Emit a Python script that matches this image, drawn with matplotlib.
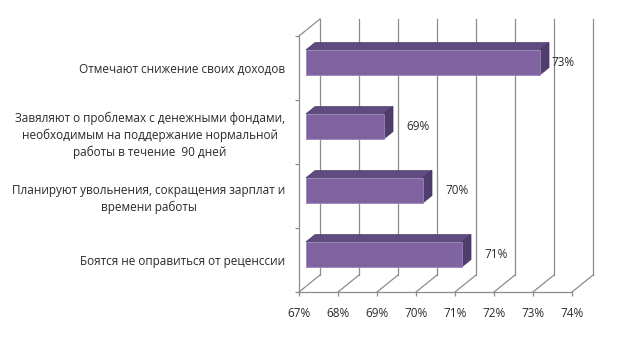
import numpy as np
import matplotlib
matplotlib.use('Agg')
import matplotlib.pyplot as plt
from matplotlib.ticker import FixedLocator, NullFormatter

plt.rcParams['font.family'] = ['Open Sans', 'DejaVu Sans']

# data (top to bottom, as in the chart)
categories = ['Отмечают снижение своих доходов',
              'Завяляют о проблемах с денежными фондами,\nнеобходимым на поддержание нормальной\nработы в течение  90 дней',
              'Планируют увольнения, сокращения зарплат и\nвремени работы',
              'Боятся не оправиться от реценссии']
values = [73, 69, 70, 71]
value_labels = ['73%', '69%', '70%', '71%']
xticks = [67, 68, 69, 70, 71, 72, 73, 74]
xtick_labels = ['67%', '68%', '69%', '70%', '71%', '72%', '73%', '74%']

# pseudo 3D settings (in data units)
DX, DY = 0.54, 0.266       # full depth offset
f_front, f_back = 0.33, 0.76
half_h = 0.195
line_col = '#8c8c8c'
text_col = '#2a2a2a'
face = '#8064a2'
top_col = '#5f4b80'
side_col = '#4f3d6b'
label_shift = [0.77, 1.05, 1.05, 1.05]

fig = plt.figure(figsize=(6.24, 3.40), dpi=100)
ax = fig.add_axes([299/624, 48/340, 273/624, 256/340])
ax.set_xlim(67, 74)
ax.set_ylim(0, 4)
n = len(categories)
centers = [n - 0.5 - i for i in range(n)]

# back wall and floor
for x in xticks:
    ax.plot([x + DX, x + DX], [DY, 4 + DY], color=line_col, lw=0.9, clip_on=False, zorder=1)
    ax.plot([x, x + DX], [0, DY], color=line_col, lw=0.9, clip_on=False, zorder=1)
ax.plot([67, 67 + DX], [4, 4 + DY], color=line_col, lw=0.9, clip_on=False, zorder=1)

# bars
dd = f_back - f_front
for v, c, lab, s in zip(values, centers, value_labels, label_shift):
    x0 = 67 + f_front * DX
    x1 = v + f_front * DX
    y0 = c - half_h + f_front * DY
    y1 = c + half_h + f_front * DY
    ax.fill([x0, x1, x1 + dd * DX, x0 + dd * DX], [y1, y1, y1 + dd * DY, y1 + dd * DY],
            color=top_col, lw=0.5, ec='#4a3a66', clip_on=False, zorder=3)
    ax.fill([x1, x1, x1 + dd * DX, x1 + dd * DX], [y0, y1, y1 + dd * DY, y0 + dd * DY],
            color=side_col, lw=0.5, ec='#403258', clip_on=False, zorder=3)
    ax.fill([x0, x1, x1, x0], [y0, y0, y1, y1], color=face, lw=0.6, ec='#9a85bb',
            clip_on=False, zorder=4)
    ax.text(v + s, (y0 + y1) / 2, lab, ha='center', va='center', fontsize=8.5,
            color=text_col, zorder=5)

# axes
for sp in ['top', 'right']:
    ax.spines[sp].set_visible(False)
for sp in ['left', 'bottom']:
    ax.spines[sp].set_color(line_col)
    ax.spines[sp].set_linewidth(0.9)
ax.set_xticks(xticks)
ax.set_xticklabels(xtick_labels)
ax.yaxis.set_major_locator(FixedLocator(range(n + 1)))
ax.yaxis.set_major_formatter(NullFormatter())
ax.yaxis.set_minor_locator(FixedLocator(centers))
ax.set_yticklabels(categories, minor=True, multialignment='center', linespacing=1.35)
ax.tick_params(axis='both', which='major', direction='out', length=3, width=0.9,
               color=line_col, labelsize=8.5, labelcolor=text_col)
ax.tick_params(axis='x', pad=8)
ax.tick_params(axis='y', which='minor', length=0, pad=10, labelsize=8.5, labelcolor=text_col)
ax.patch.set_visible(False)

fig.savefig('out.png', dpi=100)
